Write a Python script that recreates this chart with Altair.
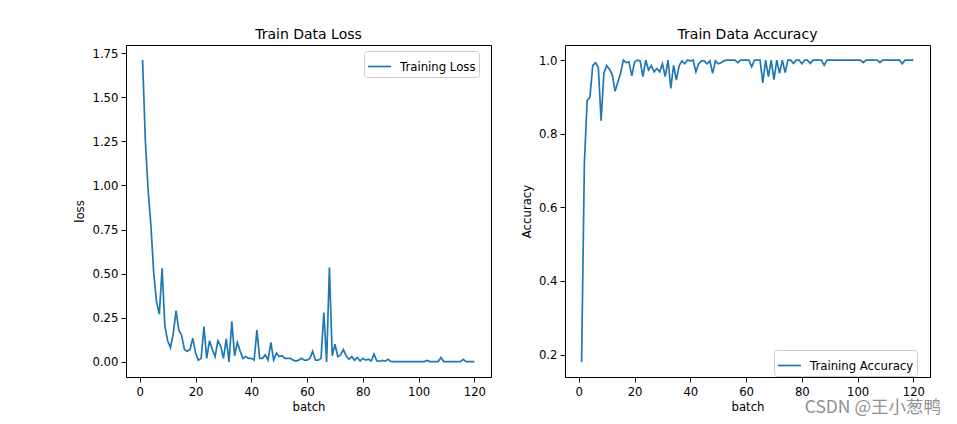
import altair as alt
import pandas as pd

batch = list(range(1, 121))

loss = [
    1.71, 1.25, 0.97, 0.77, 0.50, 0.34, 0.27, 0.53, 0.20, 0.12,
    0.08, 0.16, 0.29, 0.18, 0.15, 0.07, 0.06, 0.07, 0.135, 0.05,
    0.01, 0.02, 0.20, 0.02, 0.12, 0.07, 0.03, 0.12, 0.09, 0.02,
    0.13, 0.00, 0.23, 0.035, 0.11, 0.06, 0.02, 0.03, 0.02, 0.02,
    0.01, 0.18, 0.02, 0.02, 0.04, 0.01, 0.11, 0.01, 0.05, 0.03,
    0.035, 0.02, 0.02, 0.02, 0.01, 0.005, 0.01, 0.02, 0.01, 0.01,
    0.02, 0.06, 0.01, 0.01, 0.02, 0.28, 0.00, 0.535, 0.035, 0.10,
    0.03, 0.04, 0.07, 0.035, 0.015, 0.03, 0.01, 0.025, 0.005, 0.02,
    0.01, 0.015, 0.005, 0.045, 0.005, 0.004, 0.008, 0.004, 0.015, 0.003,
    0.002, 0.002, 0.002, 0.002, 0.002, 0.002, 0.002, 0.002, 0.002, 0.002,
    0.002, 0.002, 0.008, 0.002, 0.002, 0.002, 0.002, 0.025, 0.002, 0.002,
    0.002, 0.002, 0.002, 0.002, 0.002, 0.015, 0.002, 0.002, 0.002, 0.002,
]

accuracy = [
    0.18, 0.72, 0.89, 0.90, 0.985, 0.993, 0.98, 0.835, 0.965, 0.985,
    0.975, 0.96, 0.915, 0.94, 0.965, 1.0, 0.993, 0.995, 0.957, 0.995,
    1.0, 0.998, 0.955, 1.0, 0.973, 0.985, 0.968, 0.977, 0.968, 0.99,
    0.955, 1.0, 0.923, 0.986, 0.946, 0.985, 0.998, 0.99, 1.0, 0.998,
    1.0, 0.968, 0.99, 0.998, 0.998, 0.99, 0.998, 0.964, 0.998, 0.99,
    0.993, 0.998, 1.0, 1.0, 1.0, 1.0, 0.993, 1.0, 1.0, 1.0,
    1.0, 0.982, 1.0, 1.0, 1.0, 0.938, 1.0, 0.955, 1.0, 0.947,
    1.0, 0.964, 1.0, 0.966, 1.0, 1.0, 0.991, 1.0, 1.0, 0.99,
    1.0, 1.0, 0.991, 1.0, 1.0, 1.0, 1.0, 0.986, 1.0, 1.0,
    1.0, 1.0, 1.0, 1.0, 1.0, 1.0, 1.0, 1.0, 1.0, 1.0,
    1.0, 0.993, 1.0, 1.0, 1.0, 1.0, 1.0, 0.993, 1.0, 1.0,
    1.0, 1.0, 1.0, 1.0, 1.0, 0.99, 1.0, 1.0, 1.0, 1.0,
]

batch_ticks = [0, 20, 40, 60, 80, 100, 120]
loss_ticks = [0.0, 0.25, 0.5, 0.75, 1.0, 1.25, 1.5, 1.75]
acc_ticks = [0.2, 0.4, 0.6, 0.8, 1.0]
watermark = "CSDN @王小葱鸭"

FONT = "DejaVu Sans"
BLUE = "#1f77b4"

df_loss = pd.DataFrame({"batch": batch, "loss": loss, "series": "Training Loss"})
df_acc = pd.DataFrame({"batch": batch, "accuracy": accuracy, "series": "Training Accuracy"})
df_wm = pd.DataFrame({"t": [watermark]})


def make_legend(x, y):
    return alt.Legend(
        title=None, orient="none", legendX=x, legendY=y, direction="vertical",
        fillColor="white", strokeColor="#cccccc", cornerRadius=3, padding=3,
        symbolType="stroke", symbolSize=529, symbolStrokeWidth=1.7,
        labelFont=FONT, labelFontSize=11.7, labelColor="black", labelOffset=8,
    )


def make_title(text):
    return alt.Title(text, font=FONT, fontSize=14, fontWeight="normal", color="black",
                     offset=-8, baseline="alphabetic", anchor="middle")


x_scale = alt.Scale(domain=[-4.95, 125.95], nice=False, zero=False)

left = alt.Chart(df_loss, title=make_title("Train Data Loss")).mark_line(strokeWidth=1.7).encode(
    x=alt.X("batch:Q", scale=x_scale, axis=alt.Axis(values=batch_ticks, format="d", title="batch")),
    y=alt.Y("loss:Q", scale=alt.Scale(domain=[-0.0855, 1.7955], nice=False, zero=False),
            axis=alt.Axis(values=loss_ticks, format=".2f", title="loss")),
    color=alt.Color("series:N", scale=alt.Scale(range=[BLUE]), legend=make_legend(238, 6)),
).properties(width=365, height=332)

acc_line = alt.Chart(df_acc).mark_line(strokeWidth=1.7).encode(
    x=alt.X("batch:Q", scale=x_scale, axis=alt.Axis(values=batch_ticks, format="d", title="batch")),
    y=alt.Y("accuracy:Q", scale=alt.Scale(domain=[0.139, 1.041], nice=False, zero=False),
            axis=alt.Axis(values=acc_ticks, format=".1f", title="Accuracy")),
    color=alt.Color("series:N", scale=alt.Scale(range=[BLUE]), legend=make_legend(209, 305)),
)

wm = alt.Chart(df_wm).mark_text(
    font="Noto Sans CJK SC", fontSize=17.5, color="#909090", align="right", baseline="alphabetic"
).encode(text="t:N", x=alt.value(376), y=alt.value(368))

right = alt.layer(acc_line, wm, title=make_title("Train Data Accuracy")).properties(width=365, height=332)

chart = alt.hconcat(left, right, spacing=28).resolve_scale(color="independent").resolve_legend(
    color="independent"
).properties(
    padding={"left": 66, "top": 19, "right": 5, "bottom": 5}
).configure_axis(
    domain=False, grid=False, ticks=True, tickColor="black", tickSize=5, tickWidth=1,
    labelFont=FONT, labelFontSize=11.7, labelColor="black", labelPadding=3,
    labelFlush=False, labelOverlap=False,
    titleFont=FONT, titleFontSize=11.7, titleFontWeight="normal", titleColor="black",
).configure_axisY(titlePadding=6).configure_axisX(titlePadding=4, labelPadding=4).configure_view(
    stroke="black", strokeWidth=1
)

chart.save("out.html", embed_options={"renderer": "svg", "actions": False})
